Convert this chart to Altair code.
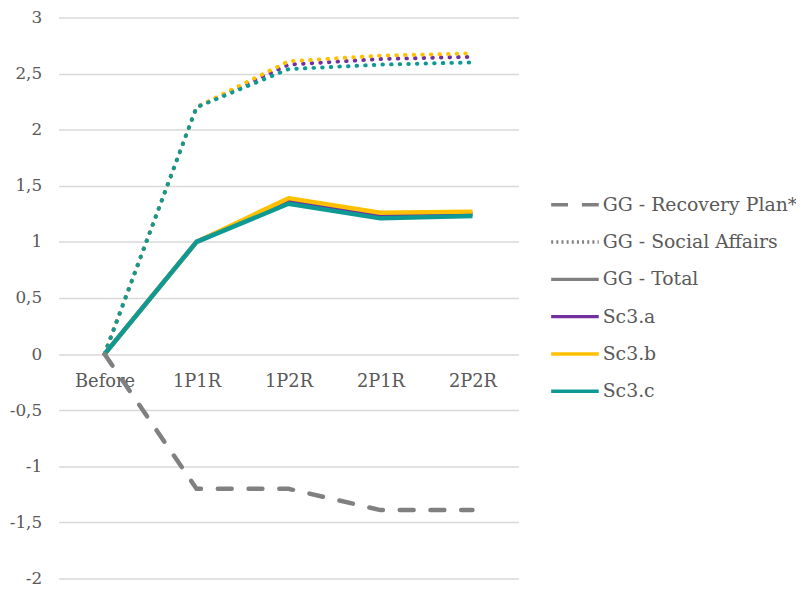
import altair as alt
import pandas as pd

categories = ["Before", "1P1R", "1P2R", "2P1R", "2P2R"]
scenarios = ["Sc3.a", "Sc3.b", "Sc3.c"]

recovery_plan = [0, -1.2, -1.2, -1.39, -1.39]
social_a = [0, 2.2, 2.58, 2.63, 2.65]
social_b = [0, 2.2, 2.61, 2.66, 2.68]
social_c = [0, 2.2, 2.54, 2.58, 2.60]
total_a = [0, 1.0, 1.36, 1.24, 1.25]
total_b = [0, 1.0, 1.39, 1.26, 1.27]
total_c = [0, 1.0, 1.34, 1.21, 1.23]

legend_labels = ["GG - Recovery Plan*", "GG - Social Affairs", "GG - Total",
                 "Sc3.a", "Sc3.b", "Sc3.c"]
scen_colors = ["#7030A0", "#FFC000", "#0E9A94"]
legend_colors = ["#808080", "#808080", "#808080"] + scen_colors
legend_dashes = [[17, 14], [2, 3.2], [1, 0], [1, 0], [1, 0], [1, 0]]

FONT = "DejaVu Serif"
TXT = "#595959"

def frame(vals_by_scen):
    rows = []
    for s, vals in zip(scenarios, vals_by_scen):
        for c, v in zip(categories, vals):
            rows.append({"cat": c, "value": v, "scenario": s})
    return pd.DataFrame(rows)

social_df = frame([social_a, social_b, social_c])
total_df = frame([total_a, total_b, total_c])
rec_df = pd.DataFrame({"cat": categories, "value": recovery_plan})
leg_df = pd.DataFrame({"cat": categories[:1] * len(legend_labels), "value": [0] * len(legend_labels),
                       "leg": legend_labels})

x_enc = alt.X("cat:N", sort=categories, title=None,
              scale=alt.Scale(type="point", padding=0.5),
              axis=alt.Axis(orient="bottom", offset=-226, domain=False, ticks=False, tickSize=0,
                            labelPadding=18, labelAngle=0, labelFont=FONT, labelFontSize=18,
                            labelColor=TXT, grid=False))
y_enc = alt.Y("value:Q", title=None,
              scale=alt.Scale(domain=[-2, 3], nice=False, zero=False),
              axis=alt.Axis(values=[-2, -1.5, -1, -0.5, 0, 0.5, 1, 1.5, 2, 2.5, 3],
                            labelExpr="replace(toString(datum.value), '.', ',')",
                            domain=False, ticks=False, labelPadding=17, labelFont=FONT,
                            labelFontSize=17, labelColor=TXT, gridColor="#D9D9D9",
                            gridWidth=1.3))

color_scen = alt.Color("scenario:N", scale=alt.Scale(domain=scenarios, range=scen_colors), legend=None)

social = alt.Chart(social_df).mark_line(strokeWidth=4, strokeDash=[0.5, 8.2], strokeCap="round").encode(
    x=x_enc, y=y_enc, color=color_scen, order=alt.Order("scenario:N"))
total = alt.Chart(total_df).mark_line(strokeWidth=4.5, strokeJoin="round").encode(
    x=x_enc, y=y_enc, color=color_scen)
rec = alt.Chart(rec_df).mark_line(strokeWidth=4.5, strokeDash=[14, 17], strokeCap="round",
                                  color="#808080").encode(x=x_enc, y=y_enc)

leg_props = dict(title=None, orient="none", legendX=507, legendY=175,
                 symbolType="M-2,0H2", symbolSize=576, symbolStrokeWidth=3.5,
                 labelFont=FONT, labelFontSize=19, labelColor=TXT,
                 labelOffset=14, rowPadding=13.6, padding=0, labelLimit=300)

legend = alt.Chart(leg_df).transform_filter("false").mark_line().encode(
    x=x_enc, y=y_enc,
    color=alt.Color("leg:N", sort=legend_labels,
                    scale=alt.Scale(domain=legend_labels, range=legend_colors),
                    legend=alt.Legend(**leg_props)),
    strokeDash=alt.StrokeDash("leg:N", sort=legend_labels,
                              scale=alt.Scale(domain=legend_labels, range=legend_dashes),
                              legend=alt.Legend(**leg_props)),
)

chart = alt.layer(social, total, rec, legend).resolve_scale(
    color="independent", strokeDash="independent"
).properties(
    width=464, height=566,
    autosize=alt.AutoSizeParams(type="none"),
    padding={"left": 51, "top": 7, "right": 280, "bottom": 8},
).configure_view(stroke=None)

chart.save("out.html", embed_options={"renderer": "svg", "actions": False})
